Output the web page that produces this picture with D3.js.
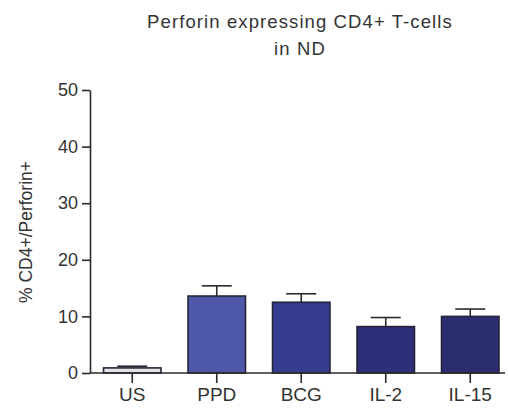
<!DOCTYPE html>
<html><head><meta charset="utf-8">
<script src="https://cdn.jsdelivr.net/npm/d3@7"></script>
<style>body{margin:0;background:#fff;}svg{display:block;font-family:"Liberation Sans",Arial,sans-serif;}</style>
</head><body>
<svg id="c" width="508" height="415"></svg>
<script>
const categories = ["US", "PPD", "BCG", "IL-2", "IL-15"];
const means = [0.9, 13.6, 12.5, 8.2, 10.0];
const errors = [0.3, 1.8, 1.5, 1.6, 1.3];
const yTicks = [0, 10, 20, 30, 40, 50];
const colors = ["#e4e4e4", "#4f58a8", "#363c8e", "#2d3079", "#2b2d70"];

const FONT = "Liberation Sans, Arial, sans-serif";
const svg = d3.select("#c");
const x = d3.scaleBand().domain(categories).range([90, 512.5]).paddingInner(0.32).paddingOuter(0.16);
const y = d3.scaleLinear().domain([0, 50]).range([373, 90]);

// bars
svg.selectAll("rect.bar").data(categories).enter().append("rect")
  .attr("x", d => x(d)).attr("width", x.bandwidth())
  .attr("y", (d,i) => y(means[i])).attr("height", (d,i) => y(0) - y(means[i]))
  .attr("fill", (d,i) => colors[i]).attr("stroke", "#24243a").attr("stroke-width", 1.6);

// error bars
const eb = svg.append("g").attr("stroke", "#2a2a2a").attr("stroke-width", 1.6);
categories.forEach((c,i) => {
  const cx = x(c) + x.bandwidth()/2;
  eb.append("line").attr("x1", cx).attr("x2", cx).attr("y1", y(means[i])).attr("y2", y(means[i]+errors[i]));
  eb.append("line").attr("x1", cx-15).attr("x2", cx+15).attr("y1", y(means[i]+errors[i])).attr("y2", y(means[i]+errors[i]));
});

// y axis
const ya = svg.append("g").attr("transform", "translate(90,0)")
  .call(d3.axisLeft(y).tickValues(yTicks).tickSize(8).tickSizeOuter(0).tickPadding(4));
ya.select(".domain").attr("stroke", "#2a2a2a").attr("stroke-width", 1.6);
ya.selectAll(".tick line").attr("stroke", "#2a2a2a").attr("stroke-width", 1.6);
ya.selectAll("text").attr("font-size", 18).attr("fill", "#333").attr("font-family", FONT);

// x axis
const xa = svg.append("g").attr("transform", "translate(0,373)")
  .call(d3.axisBottom(x).tickSize(10).tickSizeOuter(0).tickPadding(5));
xa.select(".domain").attr("d", "M90,0H505").attr("stroke", "#2a2a2a").attr("stroke-width", 1.6);
xa.selectAll(".tick line").attr("stroke", "#2a2a2a").attr("stroke-width", 1.6);
xa.selectAll("text").attr("font-size", 19).attr("fill", "#333").attr("font-family", FONT);

// title
svg.append("text").attr("x", 300).attr("y", 28).attr("text-anchor", "middle")
  .attr("font-size", 18.5).attr("letter-spacing", 1.1).attr("fill", "#333").text("Perforin expressing CD4+ T-cells");
svg.append("text").attr("x", 300).attr("y", 55).attr("text-anchor", "middle")
  .attr("font-size", 18.5).attr("letter-spacing", 1.1).attr("fill", "#333").text("in ND");

// y label
svg.append("text").attr("transform", "translate(32,232) rotate(-90)").attr("text-anchor", "middle")
  .attr("font-size", 17.5).attr("fill", "#333").text("% CD4+/Perforin+");
</script>
</body></html>
